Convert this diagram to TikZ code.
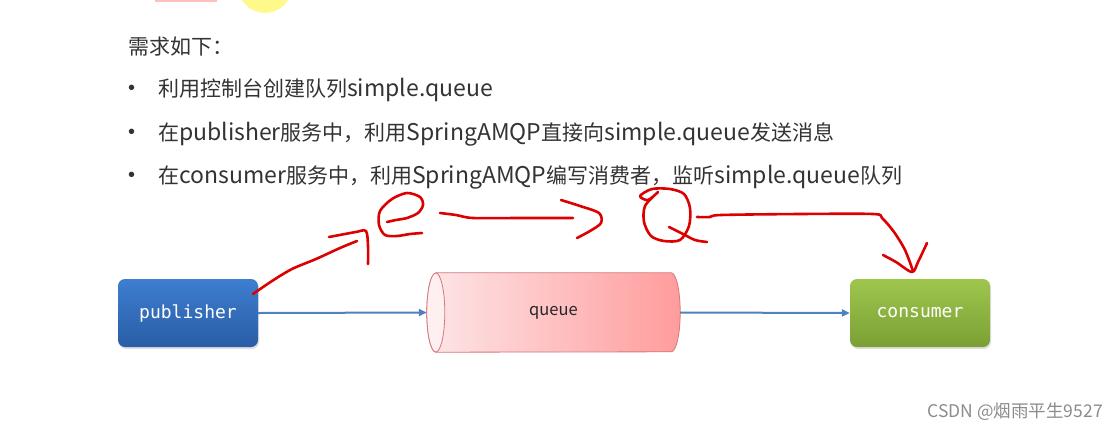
\documentclass[tikz,border=0pt]{standalone}
\usepackage{fontspec}
\newfontfamily\cjk{Noto Sans CJK SC}
\newfontfamily\boxfont{DejaVu Sans Mono}
\newfontfamily\dotfont{Liberation Sans}
\newcommand\lat[1]{{\fontsize{23}{25}\selectfont #1}}
\usetikzlibrary{arrows.meta,shadows}

\definecolor{txtgray}{HTML}{333333}
\definecolor{flowblue}{HTML}{4F81BD}
\definecolor{pubtop}{HTML}{3D7ECF}
\definecolor{pubbot}{HTML}{2A5DA6}
\definecolor{contop}{HTML}{9EC64E}
\definecolor{conbot}{HTML}{7AA034}
\definecolor{qleft}{HTML}{FDE6E8}
\definecolor{qright}{HTML}{FF9C9C}
\definecolor{qedge}{HTML}{D4787C}
\definecolor{inkred}{HTML}{DD0000}

\begin{document}
\begin{tikzpicture}[x=1pt, y=-1pt,
  req/.style={anchor=west, inner sep=0pt, text=txtgray, font=\cjk\fontsize{21}{25}\selectfont},
  box/.style={rounded corners=7pt, minimum width=140pt, minimum height=68pt, inner sep=0pt,
    text=white, font=\boxfont\fontsize{18}{20}\selectfont,
    drop shadow={opacity=0.25, shadow xshift=1pt, shadow yshift=-2pt}},
  flow/.style={-{Triangle[length=8pt, width=7pt]}, line width=2pt, draw=flowblue},
  pen/.style={draw=inkred, line width=2.6pt, line cap=round, line join=round}]

\useasboundingbox (0,0) rectangle (1119,432);
\clip (0,0) rectangle (1119,432);
\fill[white] (0,0) rectangle (1119,432);

\def\rx{9}
\def\ry{39.5}

% cut off bits at the top edge
\draw[gray!25, line width=3pt] (112,-2) arc[start angle=200, end angle=300, radius=22];
\fill[red!25] (155,-3) rectangle (217,1.5);
\fill[yellow!45] (265,-14) circle (27);

\node[req] (title) at (128,47) {需求如下：};

\foreach \yy/\txt [count=\i] in {90/{利用控制台创建队列\lat{simple.queue}},
    134/{在\lat{publisher}服务中，利用\lat{SpringAMQP}直接向\lat{simple.queue}发送消息},
    177/{在\lat{consumer}服务中，利用\lat{SpringAMQP}编写消费者，监听\lat{simple.queue}队列}} {
  \node[req] (req\i) at (158,\yy) {\txt};
  \node[req, font=\dotfont\fontsize{20}{22}\selectfont] at (128,\yy) {•};
}

\node[box, top color=pubtop, bottom color=pubbot] (publisher) at (188,313) {publisher};
\node[box, top color=contop, bottom color=conbot] (consumer) at (920,313) {consumer};

\node[minimum width=253pt, minimum height=79pt, inner sep=0pt] (queue) at (553.5,312.5) {};
\shade[left color=qleft, right color=qright, draw=qedge, line width=0.8pt]
  ([xshift=\rx pt]queue.north west) -- ([xshift=-\rx pt]queue.north east)
  arc[start angle=-90, end angle=90, x radius=\rx, y radius=\ry]
  -- ([xshift=\rx pt]queue.south west)
  arc[start angle=90, end angle=270, x radius=\rx, y radius=\ry] -- cycle;
\draw[qedge, fill=qleft!60!white, line width=0.8pt] ([xshift=\rx pt]queue.west) ellipse[x radius=\rx, y radius=\ry];
\node[font=\cjk\fontsize{16.5}{18}\selectfont, text=black!85] at (queue) {queue};

\draw[flow] (publisher.east) -- (queue.west);
\draw[flow] (queue.east) -- (consumer.west);

% red pen notes
\draw[pen] plot[smooth] coordinates {(253,294) (272,281) (292,269) (316,259) (340,248) (357,241)};
\draw[pen] plot[smooth] coordinates {(329,237) (345,234) (356,232) (366,231) (368,246) (368,264)};
\draw[pen] plot[smooth] coordinates {(387,222) (396,220) (407,218) (418,213) (423,205) (420,197) (407,193) (392,199) (380,211) (379,225) (385,235) (397,236) (410,234) (422,233)};
\draw[pen] plot[smooth] coordinates {(440,213) (456,215) (473,218) (520,218) (573,218)};
\draw[pen] plot[smooth] coordinates {(561,200) (580,206) (599,213) (601,223) (590,231) (577,238)};
\draw[pen] plot[smooth] coordinates {(657,193) (645,206) (644,222) (651,236) (664,241) (680,240) (689,226) (690,208) (684,194) (670,189) (652,189) (640,196) (648,200) (658,192)};
\draw[pen] plot[smooth] coordinates {(669,227) (683,234) (695,240) (707,242)};
\draw[pen] plot[smooth] coordinates {(697,217) (710,217) (721,215) (800,214) (873,214) (882,218) (894,232) (905,250) (913,271)};
\draw[pen] plot[smooth] coordinates {(883,255) (896,262) (912,272) (918,262) (927,243)};

\node[anchor=east, inner sep=0pt, text=black!45, font=\cjk\fontsize{17.5}{20}\selectfont] (mark) at (1103,412) {CSDN @烟雨平生9527};

\end{tikzpicture}
\end{document}
